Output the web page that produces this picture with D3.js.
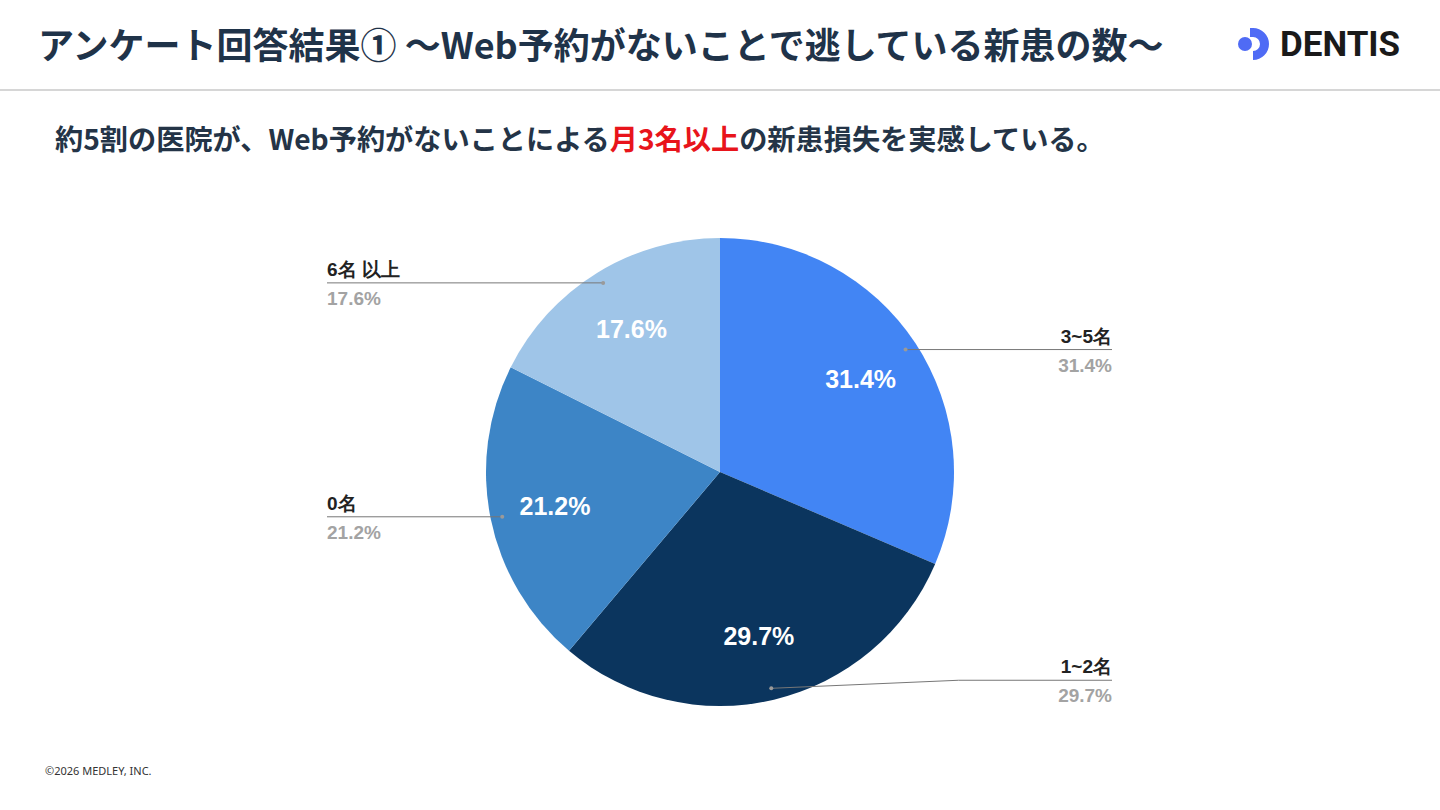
<!DOCTYPE html>
<html>
<head>
<meta charset="utf-8">
<script src="https://cdn.jsdelivr.net/npm/d3@7"></script>
<style>
  html, body { margin: 0; padding: 0; background: #fff; }
  svg { display: block; }
</style>
</head>
<body>
<div id="chart"></div>
<script>
// survey answers, clockwise from 12 o'clock
const categories = ["3~5名", "1~2名", "0名", "6名 以上"];
const shares = [31.4, 29.7, 21.2, 17.6];
const sliceColors = ["#4285f4", "#0b355e", "#3d85c6", "#9fc5e8"];

const titleText = "アンケート回答結果① 〜Web予約がないことで逃している新患の数〜";
const subtitleParts = [
  { text: "約5割の医院が、Web予約がないことによる", red: false },
  { text: "月3名以上", red: true },
  { text: "の新患損失を実感している。", red: false }
];

const width = 1440;
const height = 810;
const jp = "'Noto Sans CJK JP', 'Noto Sans', sans-serif";
const arial = "'Liberation Sans', Arial, sans-serif";

const svg = d3.select("#chart")
  .append("svg")
  .attr("width", width)
  .attr("height", height);

// header
svg.append("text")
  .attr("x", 38)
  .attr("y", 59)
  .style("font-family", jp)
  .style("font-size", "36px")
  .style("font-weight", "bold")
  .style("fill", "#1f3349")
  .text(titleText);

svg.append("line")
  .attr("x1", 0).attr("x2", width)
  .attr("y1", 90).attr("y2", 90)
  .attr("stroke", "#d6d6d6")
  .attr("stroke-width", 2);

// logo
const logo = svg.append("g").attr("transform", "translate(1253, 44)");
logo.append("circle").attr("cx", -8).attr("cy", 0).attr("r", 7).attr("fill", "#4f6bf5");
logo.append("path")
  .attr("d", d3.arc().innerRadius(7).outerRadius(16).startAngle(0).endAngle(Math.PI)())
  .attr("fill", "#4f6bf5");
logo.append("rect").attr("x", -3).attr("y", -16).attr("width", 4).attr("height", 9).attr("fill", "#4f6bf5");
logo.append("text")
  .attr("x", 27)
  .attr("y", 12)
  .style("font-family", "Roboto, 'Liberation Sans', sans-serif")
  .style("font-size", "35px")
  .style("font-weight", "bold")
  .style("fill", "#1a1a1a")
  .text("DENTIS");

// subtitle
const sub = svg.append("text")
  .attr("x", 55)
  .attr("y", 150)
  .style("font-family", jp)
  .style("font-size", "28.2px")
  .style("font-weight", "bold");
subtitleParts.forEach((p) => {
  sub.append("tspan")
    .style("fill", p.red ? "#e8141b" : "#243447")
    .text(p.text);
});

// pie
const cx = 720, cy = 472, r = 234;
const g = svg.append("g").attr("transform", `translate(${cx}, ${cy})`);

const data = categories.map((c, i) => ({ name: c, value: shares[i], color: sliceColors[i] }));
const pie = d3.pie().sort(null).value((d) => d.value);
const arcs = pie(data);

const arc = d3.arc().innerRadius(0).outerRadius(r);
const labelArc = d3.arc().innerRadius(r * 0.72).outerRadius(r * 0.72);
const dotArc = d3.arc().innerRadius(r * 0.95).outerRadius(r * 0.95);

g.selectAll("path.slice")
  .data(arcs)
  .join("path")
  .attr("class", "slice")
  .attr("d", arc)
  .attr("fill", (d) => d.data.color);

g.selectAll("text.inner")
  .data(arcs)
  .join("text")
  .attr("class", "inner")
  .attr("transform", (d) => `translate(${labelArc.centroid(d)})`)
  .attr("text-anchor", "middle")
  .attr("dy", "0.36em")
  .style("font-family", arial)
  .style("font-size", "25px")
  .style("font-weight", "bold")
  .style("fill", "#fff")
  .text((d) => `${d.data.value.toFixed(1)}%`);

// callouts
const leftX = 327 - cx;
const rightX = 1112 - cx;
const maxY = r * 0.89;

arcs.forEach((d) => {
  const [dx, dy] = dotArc.centroid(d);
  const right = dx > 0;
  const ly = Math.min(dy, maxY);
  const endX = right ? rightX : leftX;
  const kneeX = ly === dy ? dx : dx + (endX - dx) * 0.55;

  g.append("path")
    .attr("d", d3.line()([[dx, dy], [kneeX, ly], [endX, ly]]))
    .attr("fill", "none")
    .attr("stroke", "#777")
    .attr("stroke-width", 1);

  g.append("circle")
    .attr("cx", dx).attr("cy", dy).attr("r", 2)
    .attr("fill", "#9a9a9a");

  g.append("text")
    .attr("x", endX)
    .attr("y", ly - 7)
    .attr("text-anchor", right ? "end" : "start")
    .style("font-family", arial)
    .style("font-size", "19px")
    .style("font-weight", "bold")
    .style("fill", "#222")
    .text(d.data.name);

  g.append("text")
    .attr("x", endX)
    .attr("y", ly + 22)
    .attr("text-anchor", right ? "end" : "start")
    .style("font-family", arial)
    .style("font-size", "19px")
    .style("font-weight", "bold")
    .style("fill", "#a3a3a3")
    .text(`${d.data.value.toFixed(1)}%`);
});

// footer
svg.append("text")
  .attr("x", 45)
  .attr("y", 775)
  .style("font-family", "'Noto Sans', sans-serif")
  .style("font-size", "11px")
  .style("fill", "#333")
  .text("©2026 MEDLEY, INC.");
</script>
</body>
</html>
